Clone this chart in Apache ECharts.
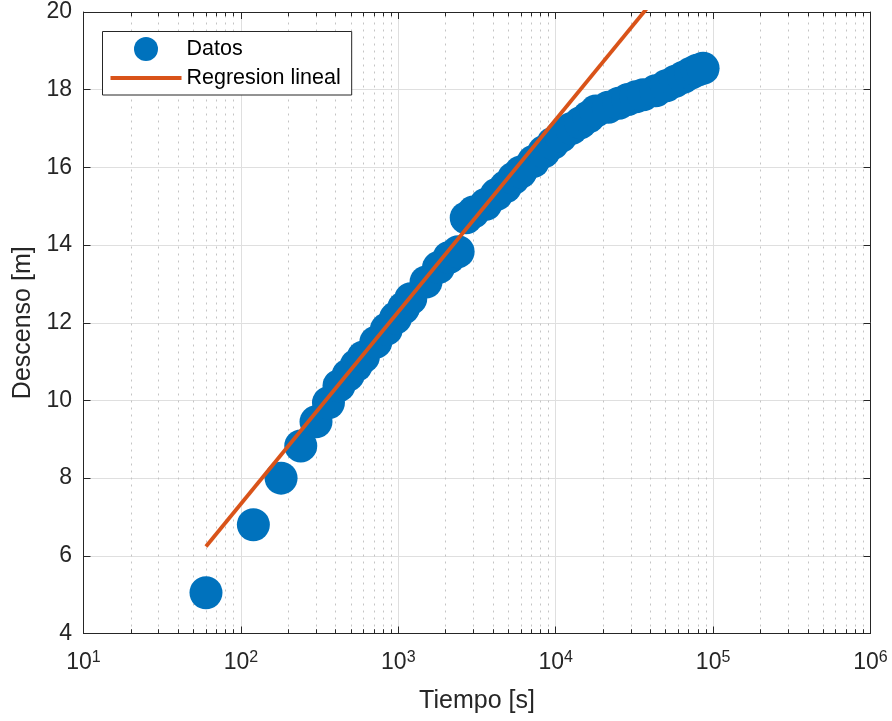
<!DOCTYPE html>
<html>
<head>
<meta charset="utf-8">
<script src="https://cdn.jsdelivr.net/npm/echarts@6/dist/echarts.min.js"></script>
<style>
html,body{margin:0;padding:0;background:#fff;}
#chart{width:892px;height:721px;}
</style>
</head>
<body>
<div id="chart"></div>
<script>
// ---- data ----
const tiempo = [60,120,180,240,300,360,420,480,540,600,720,840,960,1080,1200,1500,1800,2100,2400,2700,3000,3600,4200,4800,5400,6000,7200,8400,9600,10800,12600,14400,16200,18000,21600,25200,28800,32400,36000,43200,50400,57600,64800,72000,79200,86400];
const descenso = [5.05,6.80,8.00,8.83,9.45,9.94,10.38,10.65,10.90,11.12,11.50,11.83,12.12,12.38,12.62,13.05,13.42,13.68,13.83,14.70,14.85,15.05,15.30,15.50,15.72,15.88,16.15,16.40,16.62,16.80,17.00,17.15,17.30,17.45,17.55,17.65,17.75,17.82,17.87,17.97,18.10,18.22,18.32,18.42,18.50,18.55];
const regresionT = [60, 86400];
const regresionY = [6.24, 21.86];
const yTicks = [4,6,8,10,12,14,16,18,20];
const xDecades = [1,2,3,4,5,6];
const seriesNames = ['Datos','Regresion lineal'];

const FONT = "'Liberation Sans', Arial, Helvetica, sans-serif";
const AX = '#262626';

// minor (2..9 x 10^d) positions for the dotted log grid
const minorVals = [];
for (let d = 1; d <= 5; d++) for (let k = 2; k <= 9; k++) minorVals.push(k * Math.pow(10, d));

const xMin = Math.pow(10, xDecades[0]);
const xMax = Math.pow(10, xDecades[xDecades.length - 1]);
const yMin = yTicks[0], yMax = yTicks[yTicks.length - 1];

const minorGrid = minorVals.map(v => ({ xAxis: v }));
const minorTicks = [];
minorVals.forEach(v => {
  minorTicks.push([{ coord: [v, yMin], lineStyle: { type: 'solid', color: AX, width: 1 } }, { coord: [v, yMin + 0.11] }]);
  minorTicks.push([{ coord: [v, yMax], lineStyle: { type: 'solid', color: AX, width: 1 } }, { coord: [v, yMax - 0.11] }]);
});

const chart = echarts.init(document.getElementById('chart'), null, { renderer: 'canvas' });

const supLabel = v => '{b|10}{s|' + Math.round(Math.log10(v)) + '}';

const option = {
  animation: false,
  backgroundColor: '#fff',
  textStyle: { fontFamily: FONT },
  grid: { left: 83.5, right: 21.5, top: 12, bottom: 87.5, containLabel: false, outerBoundsMode: 'none' },
  legend: {
    orient: 'vertical',
    left: 102.5, top: 31.5,
    padding: [5.5, 11, 6, 8],
    itemWidth: 71, itemHeight: 24, itemGap: 6, itemTextGap: 6,
    symbolKeepAspect: true,
    backgroundColor: '#fff',
    borderColor: AX, borderWidth: 1,
    textStyle: { fontSize: 21.5, color: '#000', fontFamily: FONT },
    data: [
      { name: seriesNames[0], icon: 'circle' },
      { name: seriesNames[1], icon: 'path://M0,0H71V3.8H0Z', itemStyle: { color: '#D95319', borderWidth: 0 } }
    ]
  },
  xAxis: [{
    type: 'log', logBase: 10, min: xMin, max: xMax,
    position: 'bottom',
    name: 'Tiempo [s]', nameLocation: 'middle', nameGap: 55,
    nameTextStyle: { fontSize: 25, color: AX, fontFamily: FONT },
    axisLine: { show: true, onZero: false, lineStyle: { color: AX, width: 1 } },
    axisTick: { show: true, inside: true, length: 7, lineStyle: { color: AX } },
    axisLabel: {
      margin: 16, color: AX,
      formatter: supLabel,
      rich: {
        b: { fontSize: 23, lineHeight: 26, color: AX, fontFamily: FONT },
        s: { fontSize: 16, lineHeight: 12, verticalAlign: 'top', color: AX, fontFamily: FONT }
      }
    },
    splitLine: { show: true, lineStyle: { color: '#dfdfdf', width: 1 } },
    minorTick: { show: false }, minorSplitLine: { show: false }
  }, {
    type: 'log', logBase: 10, min: xMin, max: xMax,
    position: 'top',
    axisLine: { show: true, onZero: false, lineStyle: { color: AX, width: 1 } },
    axisTick: { show: true, inside: true, length: 7, lineStyle: { color: AX } },
    axisLabel: { show: false },
    splitLine: { show: false }
  }],
  yAxis: [{
    type: 'value', min: yMin, max: yMax, interval: 2,
    position: 'left',
    name: 'Descenso [m]', nameLocation: 'middle', nameGap: 41,
    nameTextStyle: { fontSize: 25, color: AX, fontFamily: FONT },
    axisLine: { show: true, onZero: false, lineStyle: { color: AX, width: 1 } },
    axisTick: { show: true, inside: true, length: 7, lineStyle: { color: AX } },
    axisLabel: { margin: 11.5, fontSize: 23, color: AX, fontFamily: FONT },
    splitLine: { show: true, lineStyle: { color: '#dfdfdf', width: 1 } }
  }, {
    type: 'value', min: yMin, max: yMax, interval: 2,
    position: 'right',
    axisLine: { show: true, onZero: false, lineStyle: { color: AX, width: 1 } },
    axisTick: { show: true, inside: true, length: 7, lineStyle: { color: AX } },
    axisLabel: { show: false },
    splitLine: { show: false }
  }],
  series: [{
    name: '_grid',
    type: 'line',
    data: [],
    xAxisIndex: 0, yAxisIndex: 0,
    silent: true,
    z: 0,
    markLine: {
      silent: true, z: 0, animation: false,
      symbol: ['none', 'none'],
      label: { show: false },
      lineStyle: { type: [2, 5], color: '#c4c4c4', width: 1 },
      emphasis: { disabled: true },
      data: minorGrid.concat(minorTicks)
    }
  }, {
    name: seriesNames[0],
    type: 'scatter',
    xAxisIndex: 0, yAxisIndex: 0,
    symbol: 'circle',
    symbolSize: 33,
    itemStyle: { color: '#0072BD', opacity: 1 },
    z: 2,
    data: tiempo.map((t, i) => [t, descenso[i]])
  }, {
    name: seriesNames[1],
    type: 'line',
    xAxisIndex: 0, yAxisIndex: 0,
    symbol: 'none',
    showSymbol: false,
    clip: true,
    lineStyle: { color: '#D95319', width: 3.8 },
    itemStyle: { color: '#D95319' },
    z: 3,
    data: regresionT.map((t, i) => [t, regresionY[i]])
  }]
};
chart.setOption(option);
</script>
</body>
</html>
